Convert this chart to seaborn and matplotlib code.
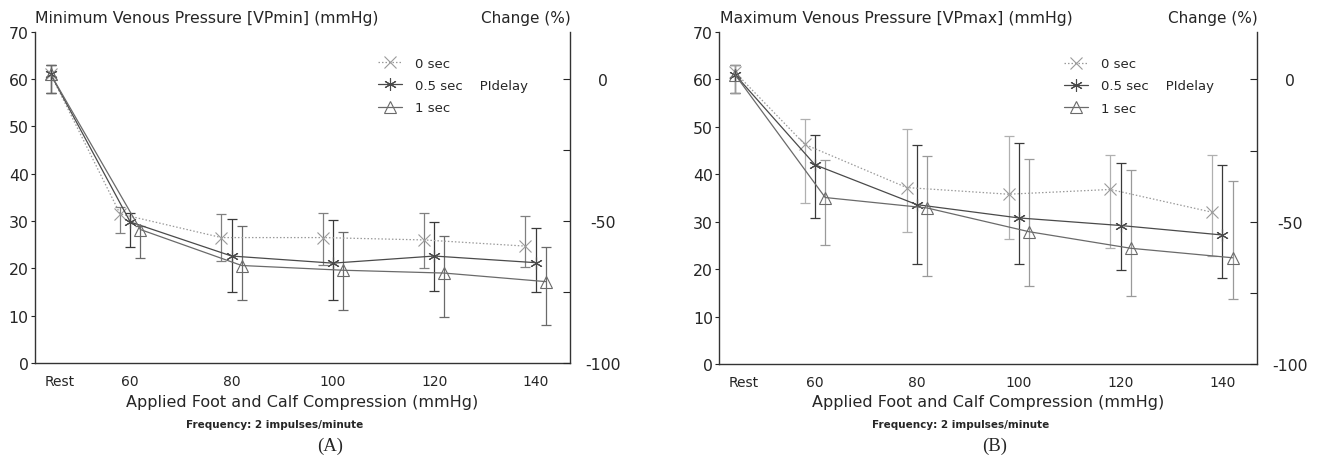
import numpy as np
import pandas as pd
import matplotlib
matplotlib.use("Agg")
import matplotlib.pyplot as plt
import seaborn as sns
from matplotlib.lines import Line2D

# ---------------- data ----------------
x_labels = ["Rest", "60", "80", "100", "120", "140"]
x_values = [44.3, 60, 80, 100, 120, 140]      # group positions (Rest drawn left of 60)
x_tick_pos = [46, 60, 80, 100, 120, 140]
series = ["0 sec", "0.5 sec", "1 sec"]

# Panel A: Minimum venous pressure (mmHg)
vpmin_0 = [61.0, 31.5, 26.5, 26.5, 26.0, 24.7]
vpmin_0_lo = [57.0, 27.5, 21.5, 20.8, 20.0, 20.3]
vpmin_0_hi = [63.0, 33.0, 31.4, 31.6, 31.6, 31.0]
vpmin_05 = [61.0, 29.8, 22.6, 21.1, 22.6, 21.2]
vpmin_05_lo = [57.0, 24.6, 15.1, 13.3, 15.2, 15.0]
vpmin_05_hi = [63.0, 31.6, 30.4, 30.3, 29.8, 28.6]
vpmin_1 = [61.0, 28.2, 20.6, 19.6, 19.0, 17.2]
vpmin_1_lo = [57.0, 22.1, 13.4, 11.2, 9.8, 8.1]
vpmin_1_hi = [63.0, 29.0, 28.9, 27.7, 26.8, 24.6]

# Panel B: Maximum venous pressure (mmHg)
vpmax_0 = [61.5, 46.3, 37.2, 35.8, 36.8, 32.0]
vpmax_0_lo = [57.2, 33.9, 27.9, 26.4, 24.5, 22.8]
vpmax_0_hi = [63.0, 51.7, 49.5, 48.0, 44.0, 44.0]
vpmax_05 = [61.0, 42.0, 33.6, 30.8, 29.2, 27.2]
vpmax_05_lo = [57.2, 30.8, 21.1, 21.0, 19.9, 18.2]
vpmax_05_hi = [63.0, 48.3, 46.2, 46.6, 42.3, 41.9]
vpmax_1 = [61.0, 35.1, 32.9, 27.9, 24.4, 22.4]
vpmax_1_lo = [57.2, 25.1, 18.6, 16.4, 14.4, 13.8]
vpmax_1_hi = [63.0, 43.0, 43.8, 43.2, 40.9, 38.5]

right_ticks = [0, -50, -100]
right_minor = [-25, -75]
baseline = 60.0  # 0 % change reference (mmHg)

# ---------------- style ----------------
W, H = 1324, 464
fig = plt.figure(figsize=(W / 100, H / 100), dpi=100)
sns.set_style("white")
plt.rcParams["font.family"] = ["DejaVu Sans"]


def fx(p):
    return p / W


def fy(p):
    return 1 - p / H


group_offset = {"0 sec": -2.0, "0.5 sec": 0.0, "1 sec": 2.0}
markers = {"0 sec": "x", "0.5 sec": (6, 2, 0), "1 sec": "^"}
msize = {"0 sec": 8, "0.5 sec": 9, "1 sec": 9}
lstyle = {"0 sec": (0, (1.2, 1.6)), "0.5 sec": "-", "1 sec": "-"}
lcolor = {"0 sec": "#9a9a9a", "0.5 sec": "#4a4a4a", "1 sec": "#6a6a6a"}


def build_df(m0, m05, m1, l0, l05, l1, h0, h05, h1):
    rows = []
    for s, m, lo, hi in zip(series, [m0, m05, m1], [l0, l05, l1], [h0, h05, h1]):
        for i, (xv, v, a, b) in enumerate(zip(x_values, m, lo, hi)):
            off = 0.0 if i == 0 else group_offset[s]
            rows.append(dict(series=s, x=xv + off, value=v, lo=a, hi=b))
    return pd.DataFrame(rows)


def draw_panel(ax, df, ecolors, title, xlabel_c, freq_c, cap_c, cap, title_left, right_px):
    for s in series:
        d = df[df.series == s]
        ax.errorbar(d.x, d.value, yerr=[d.value - d.lo, d.hi - d.value], fmt="none",
                    ecolor=ecolors[s], elinewidth=0.9, capsize=3.5, capthick=0.9, zorder=2)
        sns.lineplot(data=d, x="x", y="value", ax=ax, color=lcolor[s], marker=markers[s],
                     linestyle=lstyle[s], linewidth=0.9, markersize=msize[s],
                     markeredgewidth=0.8, markerfacecolor="none", markeredgecolor=lcolor[s],
                     errorbar=None, sort=True, legend=False, zorder=3)
    ax.set_xlim(41.2, 146.8)
    ax.set_ylim(0, 70)
    ax.set_yticks(range(0, 71, 10))
    ax.set_xticks(x_tick_pos)
    ax.set_xticklabels(x_labels)
    ax.set_xlabel("")
    ax.set_ylabel("")
    ax.tick_params(axis="x", length=0, pad=8, labelsize=10)
    ax.tick_params(axis="y", length=3, width=0.8, pad=1.5, labelsize=11.3, direction="out")
    for sp in ["top", "right"]:
        ax.spines[sp].set_visible(False)
    for sp in ["left", "bottom"]:
        ax.spines[sp].set_linewidth(1.0)
        ax.spines[sp].set_color("#333333")

    ax2 = ax.twinx()
    ax2.set_ylim((0 / baseline - 1) * 100, (70 / baseline - 1) * 100)
    ax2.set_yticks(right_ticks)
    ax2.set_yticklabels([str(t) for t in right_ticks])
    ax2.set_yticks(right_minor, minor=True)
    ax2.tick_params(axis="y", which="major", direction="in", length=5, width=0.8,
                    pad=24, labelsize=11.3)
    ax2.tick_params(axis="y", which="minor", direction="in", length=5, width=0.8)
    for lab in ax2.get_yticklabels():
        lab.set_horizontalalignment("center")
    for sp in ["top", "left", "bottom"]:
        ax2.spines[sp].set_visible(False)
    ax2.spines["right"].set_linewidth(1.0)
    ax2.spines["right"].set_color("#333333")

    handles = [Line2D([], [], color=lcolor[s], linestyle=lstyle[s], linewidth=0.9,
                      marker=markers[s], markersize=msize[s], markeredgewidth=0.8,
                      markerfacecolor="none") for s in series]
    labels = ["0 sec", "0.5 sec    PIdelay", "1 sec"]
    ax.legend(handles, labels, loc="upper left", bbox_to_anchor=(0.641, 0.924),
              frameon=False, fontsize=9.5, handlelength=1.8, handletextpad=1.0,
              labelspacing=0.7, borderpad=0, borderaxespad=0)

    fig.text(fx(title_left), fy(19), title, ha="left", va="center", fontsize=11.3)
    fig.text(fx(right_px + 1), fy(19), "Change (%)", ha="right", va="center", fontsize=11)
    fig.text(fx(xlabel_c), fy(402.7), "Applied Foot and Calf Compression (mmHg)",
             ha="center", va="center", fontsize=11.5)
    fig.text(fx(freq_c), fy(425.5), "Frequency: 2 impulses/minute", ha="center",
             va="center", fontsize=7.5, fontweight="bold")
    fig.text(fx(cap_c), fy(446.7), cap, ha="center", va="center", fontsize=13.5,
             family=["Liberation Serif", "DejaVu Serif"])


axA = fig.add_axes([fx(35), fy(364), (570 - 35) / W, (364 - 32.7) / H])
axB = fig.add_axes([fx(719.3), fy(365), (1257 - 719.3) / W, (365 - 33) / H])

dfA = build_df(vpmin_0, vpmin_05, vpmin_1, vpmin_0_lo, vpmin_05_lo, vpmin_1_lo,
               vpmin_0_hi, vpmin_05_hi, vpmin_1_hi)
dfB = build_df(vpmax_0, vpmax_05, vpmax_1, vpmax_0_lo, vpmax_05_lo, vpmax_1_lo,
               vpmax_0_hi, vpmax_05_hi, vpmax_1_hi)

ecolA = {"0 sec": "#808080", "0.5 sec": "#3a3a3a", "1 sec": "#6a6a6a"}
ecolB = {"0 sec": "#b0b0b0", "0.5 sec": "#3a3a3a", "1 sec": "#9a9a9a"}

draw_panel(axA, dfA, ecolA, "Minimum Venous Pressure [VPmin] (mmHg)", 302, 275, 330, "(A)", 35, 570)
draw_panel(axB, dfB, ecolB, "Maximum Venous Pressure [VPmax] (mmHg)", 988, 961, 995, "(B)", 719.5, 1257)

fig.savefig("out.png", dpi=100)
